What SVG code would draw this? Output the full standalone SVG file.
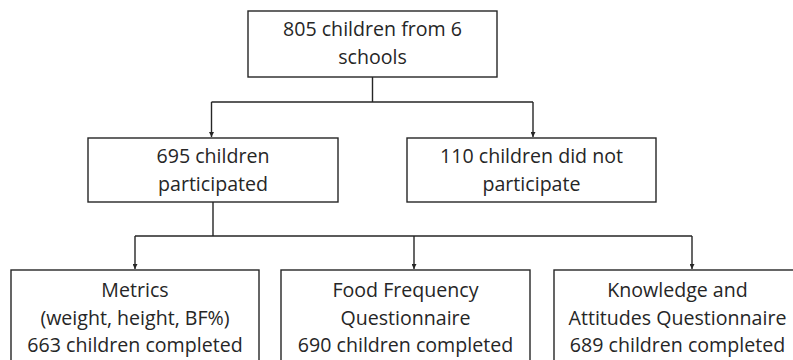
<svg xmlns="http://www.w3.org/2000/svg" width="793" height="360" viewBox="0 0 793 360">
<style>
.box{fill:#fff;stroke:#262626;stroke-width:1.4}
.t{font-family:"Open Sans","Liberation Sans",sans-serif;font-size:19.6px;fill:#262626;text-anchor:middle}
.c{fill:none;stroke:#262626;stroke-width:1.4}
</style>
<defs>
<marker id="ah" viewBox="0 0 10 10" refX="10" refY="5" markerWidth="5" markerHeight="5" orient="auto" markerUnits="userSpaceOnUse">
<path d="M0,0 L10,5 L0,10 Z" fill="#262626"/>
</marker>
</defs>
<rect width="793" height="360" fill="#fff"/>
<g id="connectors">
<path class="c" d="M372.5,77 V102 M211.5,102 H533"/>
<path class="c" d="M211.5,102 V137" marker-end="url(#ah)"/>
<path class="c" d="M533,102 V137" marker-end="url(#ah)"/>
<path class="c" d="M213,202 V236 M135,236 H692"/>
<path class="c" d="M135,236 V269" marker-end="url(#ah)"/>
<path class="c" d="M414,236 V269" marker-end="url(#ah)"/>
<path class="c" d="M692,236 V269" marker-end="url(#ah)"/>
</g>
<g id="n1">
<rect class="box" x="248" y="11" width="249" height="66"/>
<text class="t" x="372.5" y="36">805 children from 6</text>
<text class="t" x="372.5" y="64">schools</text>
</g>
<g id="n2">
<rect class="box" x="88" y="138" width="250" height="64"/>
<text class="t" x="213" y="163">695 children</text>
<text class="t" x="213" y="191">participated</text>
</g>
<g id="n3">
<rect class="box" x="407" y="138" width="249" height="64"/>
<text class="t" x="531.5" y="163">110 children did not</text>
<text class="t" x="531.5" y="191">participate</text>
</g>
<g id="n4">
<rect class="box" x="11" y="270" width="248" height="100"/>
<text class="t" x="135" y="297">Metrics</text>
<text class="t" x="135" y="324.5">(weight, height, BF%)</text>
<text class="t" x="135" y="352">663 children completed</text>
</g>
<g id="n5">
<rect class="box" x="281" y="270" width="249" height="100"/>
<text class="t" x="405.5" y="297">Food Frequency</text>
<text class="t" x="405.5" y="324.5">Questionnaire</text>
<text class="t" x="405.5" y="352">690 children completed</text>
</g>
<g id="n6">
<rect class="box" x="554" y="270" width="250" height="100"/>
<text class="t" x="677.5" y="297">Knowledge and</text>
<text class="t" x="677.5" y="324.5">Attitudes Questionnaire</text>
<text class="t" x="677.5" y="352">689 children completed</text>
</g>
</svg>
